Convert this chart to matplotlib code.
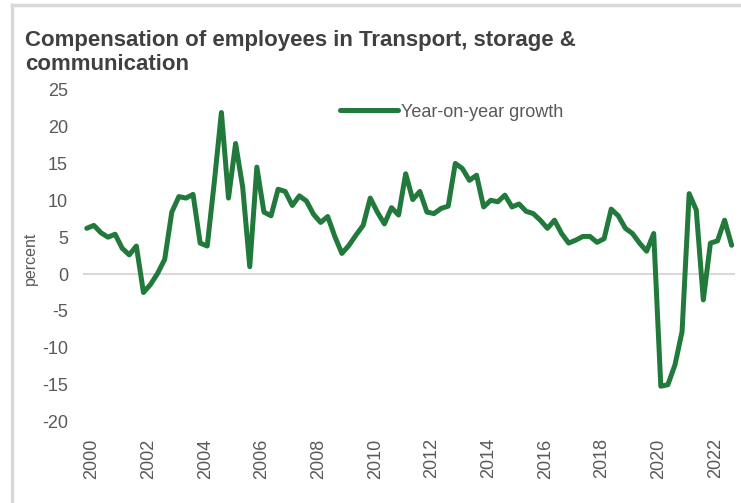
import numpy as np
import matplotlib
matplotlib.use("Agg")
import matplotlib.pyplot as plt
from matplotlib.lines import Line2D
from matplotlib.transforms import ScaledTranslation

plt.rcParams['font.family'] = ['Liberation Sans', 'DejaVu Sans']
plt.rcParams['axes.unicode_minus'] = False

# quarterly year-on-year growth, 2000Q1 - 2022Q4
growth = [6.2, 6.6, 5.6, 5.0, 5.4, 3.5, 2.6, 3.8,
          -2.5, -1.4, 0.1, 2.0, 8.4, 10.5, 10.3, 10.8,
          4.2, 3.8, 12.5, 21.9, 10.3, 17.7, 11.8, 1.0,
          14.5, 8.4, 7.9, 11.5, 11.2, 9.3, 10.6, 9.9,
          8.1, 7.0, 7.8, 5.1, 2.8, 3.9, 5.3, 6.6,
          10.3, 8.4, 6.8, 9.0, 8.0, 13.6, 10.1, 11.2,
          8.4, 8.2, 8.9, 9.2, 15.0, 14.3, 12.7, 13.4,
          9.1, 10.0, 9.8, 10.7, 9.1, 9.5, 8.5, 8.2,
          7.3, 6.2, 7.3, 5.5, 4.2, 4.6, 5.1, 5.1,
          4.3, 4.8, 8.8, 7.9, 6.2, 5.5, 4.2, 3.1,
          5.5, -15.2, -15.0, -12.3, -7.8, 10.9, 8.7, -3.5,
          4.2, 4.5, 7.3, 3.9]
start_year = 2000
year_labels = [str(y) for y in range(2000, 2023, 2)]
y_ticks = list(range(-20, 26, 5))

green = '#217a3b'
grey_txt = '#595959'

fig = plt.figure(figsize=(7.41, 5.03), dpi=100)
ax = fig.add_axes([0.1123, 0.1618, 0.8799, 0.660])

x = np.arange(len(growth))
ax.axhline(0, color='#d9d9d9', lw=1.5, zorder=1)
ax.plot(x, growth, color=green, lw=3.6, solid_joinstyle='round',
        solid_capstyle='round', label='Year-on-year growth', zorder=3)

ax.set_xlim(-0.5, len(growth) - 0.5)
ax.set_ylim(-20, 25)
ax.set_yticks(y_ticks)
ax.set_xticks([(int(l) - start_year) * 4 for l in year_labels])
ax.set_xticklabels(year_labels, rotation=90)
ax.tick_params(axis='both', length=0, labelsize=13, labelcolor=grey_txt)
ax.tick_params(axis='y', pad=11)
ax.tick_params(axis='x', pad=12)
# excel-style label placement, a little right of the category
shift = ScaledTranslation(5 / 100, 0, fig.dpi_scale_trans)
for lab in ax.get_xticklabels():
    lab.set_transform(lab.get_transform() + shift)
for s in ax.spines.values():
    s.set_visible(False)

ax.set_ylabel('percent', fontsize=11.5, color=grey_txt)
ax.yaxis.set_label_coords(-0.069, 0.493)

ax.legend(loc='center left', bbox_to_anchor=(0.394, 0.932), frameon=False,
          fontsize=13, handlelength=3.2, handletextpad=0.2, borderpad=0,
          borderaxespad=0, labelcolor=grey_txt)

fig.text(0.0337, 0.94, 'Compensation of employees in Transport, storage &\ncommunication',
         fontsize=16, fontweight='bold', color='#404040', va='top', ha='left',
         linespacing=1.2)

# light grey frame edges (top and left)
fig.add_artist(Line2D([0.0162, 0.0162], [0, 0.99], color='#d9d9d9', lw=2.5))
fig.add_artist(Line2D([0.0162, 1.0], [0.99, 0.99], color='#d9d9d9', lw=2.5))

fig.savefig('out.png', dpi=100)
